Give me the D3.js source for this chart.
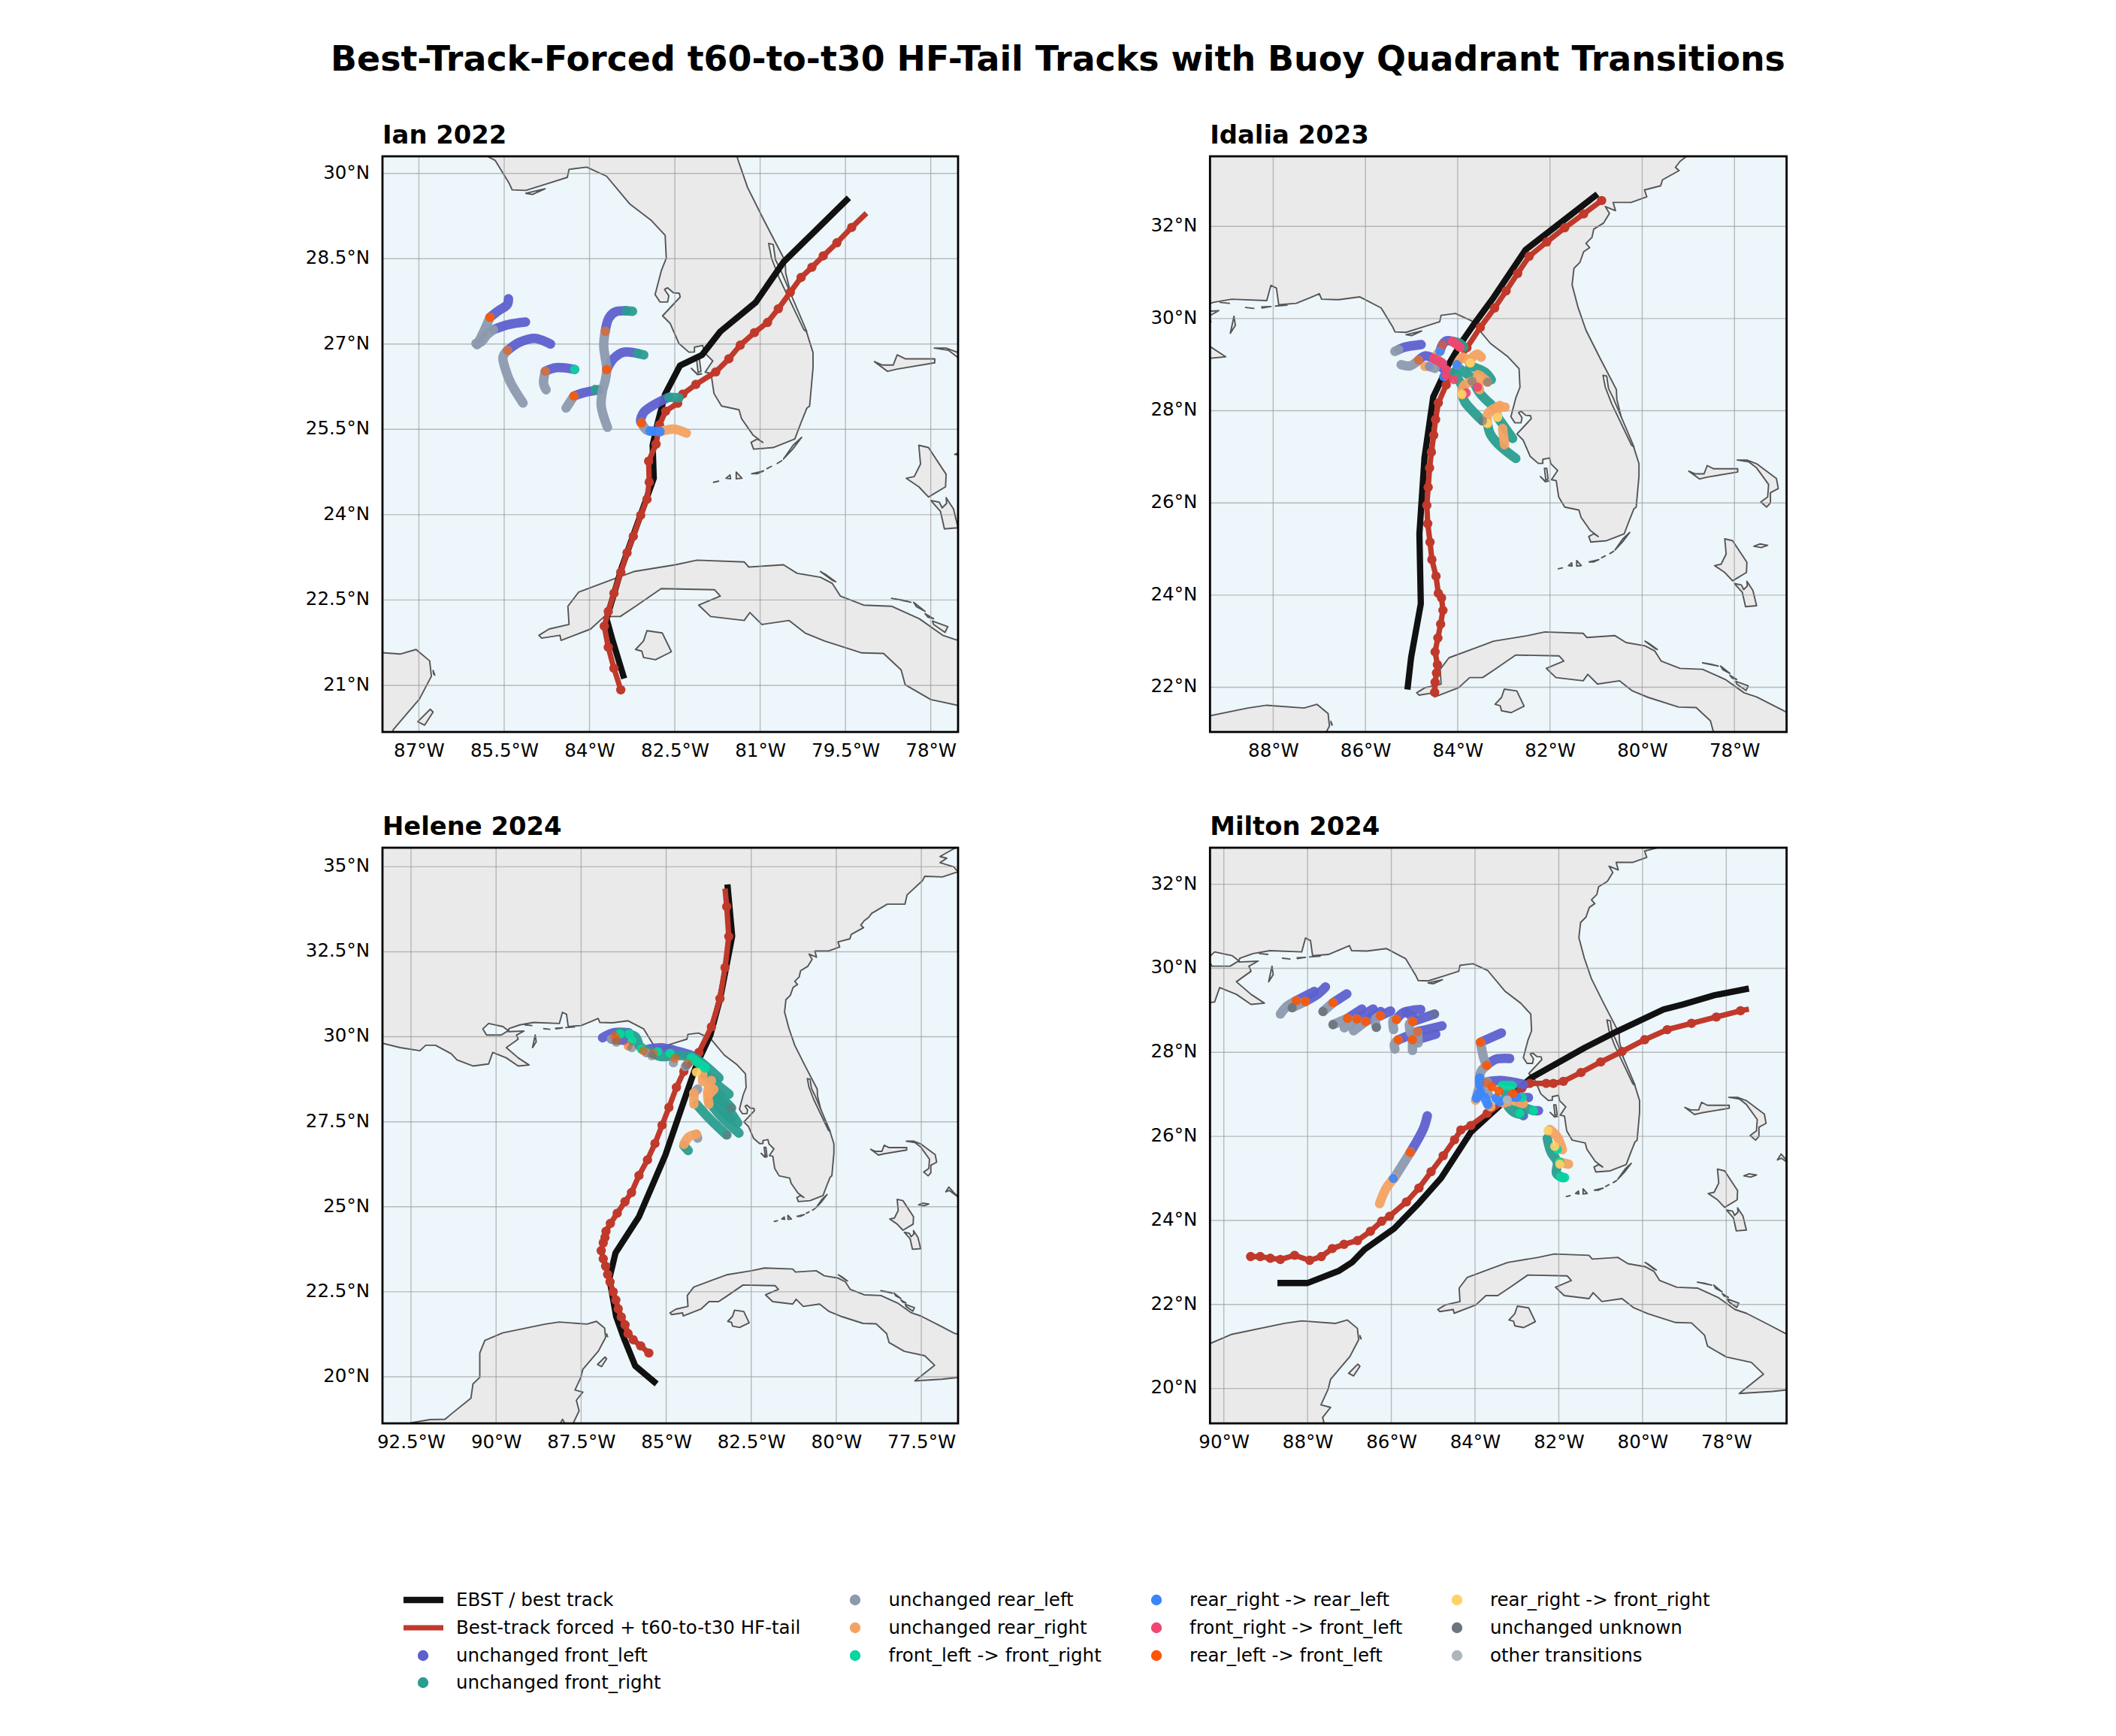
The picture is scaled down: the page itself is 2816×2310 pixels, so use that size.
<!DOCTYPE html>
<html><head><meta charset="utf-8">
<script src="https://cdnjs.cloudflare.com/ajax/libs/d3/7.8.5/d3.min.js"></script>
<style>html,body{margin:0;padding:0;background:#fff}svg{display:block}text{font-family:"DejaVu Sans",sans-serif}</style>
</head><body><svg id="fig" width="2816" height="2310"></svg>
<script>
const FIG_TITLE="Best-Track-Forced t60-to-t30 HF-Tail Tracks with Buoy Quadrant Transitions";

/* ---------- legend categories ---------- */
const FL="unchanged front_left",FR="unchanged front_right",RL="unchanged rear_left",RR="unchanged rear_right",
FLFR="front_left -> front_right",RRRL="rear_right -> rear_left",FRFL="front_right -> front_left",RLFL="rear_left -> front_left",
RRFR="rear_right -> front_right",UNK="unchanged unknown",OTH="other transitions";
const categories=[FL,FR,RL,RR,FLFR,RRRL,FRFL,RLFL,RRFR,UNK,OTH];
const categoryColors=["#5e60ce","#2a9d8f","#8d99ae","#f4a261","#06d6a0","#3a86ff","#ef476f","#fb5607","#ffd166","#6c757d","#adb5bd"];
const lineLabels=["EBST / best track","Best-track forced + t60-to-t30 HF-tail"];

/* ---------- coastline (lon, lat) ---------- */
const mainland=[[-95,29.8],[-93.34,29.81],[-92.82,29.68],[-92.24,29.59],[-92.07,29.75],[-91.78,29.75],[-91.32,29.5],[-91.15,29.32],[-90.68,29.14],[-90.22,29.2],[-90.1,29.54],[-89.7,29.38],[-89.35,29.14],[-89.03,29.17],[-89.35,29.38],[-89.7,29.68],[-89.35,29.93],[-89.4,30.05],[-89.18,30.17],[-89.64,30.15],[-89.62,30.24],[-89.3,30.35],[-88.9,30.42],[-88.14,30.39],[-88.05,30.72],[-87.93,30.66],[-87.88,30.3],[-87.5,30.33],[-87.16,30.47],[-87,30.54],[-86.95,30.42],[-86.58,30.41],[-86.12,30.47],[-85.66,30.23],[-85.41,29.82],[-85.36,29.71],[-85.12,29.7],[-84.74,29.82],[-84.39,29.93],[-84.36,30.07],[-84.05,30.11],[-83.7,29.95],[-83.29,29.46],[-82.91,29.17],[-82.67,28.91],[-82.65,28.51],[-82.737,28.289],[-82.847,27.87],[-82.759,27.738],[-82.627,27.738],[-82.605,27.848],[-82.68,27.959],[-82.627,27.989],[-82.525,27.901],[-82.42,27.892],[-82.406,27.826],[-82.715,27.496],[-82.58,27.36],[-82.429,27.011],[-82.252,26.857],[-82.155,26.86],[-82.155,26.945],[-82.01,26.976],[-81.98,26.85],[-81.833,26.703],[-81.966,26.505],[-81.864,26.483],[-81.811,26.13],[-81.679,25.91],[-81.371,25.844],[-81.327,25.69],[-81.128,25.403],[-80.952,25.271],[-81.05,25.33],[-81.159,25.271],[-81.115,25.152],[-80.77,25.18],[-80.39,25.33],[-80.28,25.62],[-80.18,25.87],[-80.13,25.91],[-80.07,26.58],[-80.07,26.85],[-80.18,27.2],[-80.42,27.72],[-80.55,28.25],[-80.56,28.46],[-80.93,29.17],[-81.22,29.75],[-81.39,30.24],[-81.52,30.73],[-81.48,31.09],[-81.35,31.22],[-81.27,31.45],[-81.14,31.54],[-81.22,31.63],[-81.09,31.76],[-81.05,31.94],[-80.84,32.07],[-80.71,32.28],[-80.8,32.43],[-80.58,32.34],[-80.63,32.52],[-80.24,32.52],[-79.9,32.64],[-79.95,32.79],[-79.6,32.88],[-79.56,33.01],[-79.2,33.21],[-79.28,33.28],[-79.18,33.41],[-79.05,33.51],[-78.96,33.63],[-78.5,33.9],[-77.98,33.9],[-77.92,34.17],[-77.46,34.6],[-77.4,34.72],[-76.88,34.7],[-76.42,34.85],[-76.55,35],[-76.95,35.12],[-76.75,35.25],[-76.95,35.3],[-76.6,35.5],[-76.2,35.7],[-75.5,35.6],[-75,37],[-95,37]];
const lakePontchartrain=[[-90.39,30.23],[-90.22,30.39],[-89.8,30.3],[-89.64,30.18],[-89.85,30.05],[-90.28,30.05]];
const yucatan=[[-92.9,18.2],[-92.53,18.64],[-91.95,18.74],[-91.5,18.75],[-91.3,18.92],[-90.74,19.37],[-90.68,19.79],[-90.48,19.98],[-90.48,20.7],[-90.33,21.07],[-89.81,21.29],[-88.55,21.55],[-88.14,21.61],[-87.33,21.55],[-87.05,21.63],[-86.81,21.43],[-86.78,21.16],[-86.99,20.76],[-87.45,20.22],[-87.51,19.98],[-87.68,19.61],[-87.45,19.55],[-87.64,19.31],[-87.56,19],[-87.73,18.64],[-87.9,18.5],[-88.05,18.75],[-88.15,18.55],[-88.2,18.2]];
const cuba=[[-84.89,21.88],[-84.71,21.99],[-84.36,22.07],[-84.38,22.39],[-84.19,22.64],[-83.6,22.86],[-83.22,23],[-82.49,23.12],[-82.11,23.2],[-81.28,23.17],[-81.2,23.08],[-80.59,23.12],[-80.35,22.97],[-79.94,22.9],[-79.73,22.79],[-79.59,22.57],[-79.18,22.41],[-78.69,22.39],[-78.2,22.17],[-77.79,21.88],[-77.52,21.79],[-76.95,21.5],[-76.53,21.28],[-75.9,21.1],[-75.6,20.7],[-74.2,20.2],[-74.5,20],[-75.7,19.95],[-76.42,19.98],[-76.9,19.93],[-77.69,19.88],[-77.11,20.34],[-77.4,20.62],[-78,20.75],[-78.45,21.01],[-78.52,21.27],[-78.83,21.56],[-79.21,21.57],[-79.87,21.78],[-80.21,21.92],[-80.49,22.14],[-80.97,22.07],[-81.18,22.28],[-81.28,22.14],[-81.87,22.21],[-82.08,22.41],[-81.7,22.57],[-81.8,22.68],[-82.74,22.7],[-83.19,22.39],[-83.46,22.21],[-83.74,22.21],[-83.98,21.99],[-84.5,21.79],[-84.52,21.88],[-84.84,21.83]];
const isleOfYouth=[[-83.19,21.63],[-83.05,21.78],[-82.99,21.96],[-82.72,21.92],[-82.56,21.59],[-82.84,21.45],[-83.05,21.49],[-83.08,21.6]];
const cubanCays=[[[-79.94,23],[-79.72,22.84],[-79.67,22.82],[-79.85,22.95]],[[-78.69,22.53],[-78.35,22.46],[-78.5,22.5]],[[-78.3,22.46],[-78.1,22.3],[-78.25,22.38]],[[-78.1,22.26],[-77.95,22.17],[-78.05,22.2]],[[-77.97,22.13],[-77.7,22.03],[-77.75,21.93],[-77.95,22.07]]];
const cozumel=[[-87.02,20.36],[-86.8,20.58],[-86.75,20.53],[-86.9,20.3]];
const contoy=[[-86.75,21.26],[-86.72,21.18],[-86.74,21.2]];
const grandBahama=[[-78.99,26.69],[-78.76,26.52],[-78.59,26.56],[-77.93,26.67],[-77.93,26.74],[-78.45,26.74],[-78.59,26.81],[-78.66,26.63],[-78.85,26.63]];
const abaco=[[-77.94,26.93],[-77.73,26.93],[-77.52,26.85],[-77.09,26.53],[-77.05,26.31],[-77.22,26.22],[-77.22,26],[-77.3,25.91],[-77.43,26.02],[-77.28,26.13],[-77.26,26.4],[-77.52,26.76],[-77.69,26.89]];
const andrusNorth=[[-78.21,25.22],[-78.04,25.18],[-77.73,24.71],[-77.74,24.49],[-78.04,24.31],[-78.21,24.49],[-78.43,24.64],[-78.29,24.67],[-78.18,24.89]];
const andrusSouth=[[-78,24.25],[-77.85,24.22],[-77.8,24.12],[-77.72,24.2],[-77.73,24.3],[-77.6,24.1],[-77.52,23.77],[-77.76,23.75],[-77.83,24.06]];
const newProvidence=[[-77.58,25.06],[-77.45,25.11],[-77.28,25.08],[-77.42,25.03]];
const eleuthera=[[-76.78,25.44],[-76.69,25.58],[-76.54,25.41],[-76.3,25.2],[-76.68,25.48]];
const keys=[[[-80.27,25.36],[-80.42,25.22],[-80.59,24.98],[-80.43,25.15]],[[-80.7,24.9],[-80.62,24.95]],[[-80.88,24.81],[-80.8,24.85]],[[-81.15,24.72],[-80.94,24.77],[-81.05,24.72]],[[-81.42,24.75],[-81.32,24.64],[-81.42,24.63]],[[-81.6,24.64],[-81.53,24.7],[-81.52,24.63]],[[-81.82,24.57],[-81.73,24.59]]];
const barrierIslands=[[[-85.12,29.65],[-84.78,29.73],[-85,29.63]],[[-88.6,30.24],[-88.42,30.22]],[[-88.25,30.25],[-88.05,30.26],[-88.24,30.23]],[[-87.95,30.27],[-87.7,30.29]],[[-88.85,30.05],[-88.82,29.85],[-88.93,29.68]],[[-89.15,30.35],[-88.95,30.33]]];
const captivaIsland=[[-82.208,26.571],[-82.1,26.47],[-82.03,26.475],[-82.1,26.46]];
const pineIsland=[[-82.12,26.75],[-82.09,26.5],[-82.04,26.52],[-82.07,26.75]];
const indianRiver=[[-80.85,28.77],[-80.77,28.75],[-80.73,28.48],[-80.64,28.3],[-80.18,27.22],[-80.23,27.25],[-80.66,28.15],[-80.8,28.51]];

const landPolys=[mainland,yucatan,cuba,isleOfYouth,...cubanCays,cozumel,contoy,grandBahama,abaco,andrusNorth,andrusSouth,newProvidence,eleuthera,...keys,...barrierIslands,captivaIsland,pineIsland];
const waterPolys=[lakePontchartrain,indianRiver];

/* ---------- Ian 2022 ---------- */
const ianBest=[[-83.39,21.12],[-83.6,21.81],[-83.7,22.17],[-83.43,23.08],[-82.87,24.64],[-82.89,25.22],[-82.8,25.62],[-82.67,26.12],[-82.41,26.62],[-82.02,26.81],[-81.7,27.22],[-81.08,27.73],[-80.59,28.44],[-79.44,29.57]];
const ianForced=[[-83.45,20.92],[-83.57,21.3],[-83.67,21.67],[-83.74,22.04],[-83.67,22.3],[-83.57,22.62],[-83.45,22.99],[-83.34,23.33],[-83.23,23.62],[-83.1,23.99],[-82.99,24.27],[-82.95,24.57],[-82.96,24.94],[-82.83,25.24],[-82.77,25.58],[-82.66,25.82],[-82.45,25.96],[-82.36,26.12],[-82.13,26.29],[-81.78,26.51],[-81.55,26.74],[-81.35,26.98],[-81.1,27.2],[-80.87,27.38],[-80.68,27.62],[-80.47,27.91],[-80.28,28.17],[-80.09,28.35],[-79.89,28.55],[-79.65,28.78],[-79.39,29.05],[-79.13,29.3]];
const ianBuoys=[
[FL,[[-85.424,27.796],[-85.446,27.694],[-85.6,27.584],[-85.75,27.47]]],
[RL,[[-85.75,27.47],[-85.843,27.254],[-85.975,26.989]]],
[FL,[[-85.125,27.386],[-85.424,27.342],[-85.688,27.254]]],
[RL,[[-85.688,27.254],[-85.799,27.166],[-85.909,27.033],[-85.997,27.011]]],
[FL,[[-84.684,27],[-84.807,27.055],[-84.962,27.1],[-85.226,27.033],[-85.442,26.888]]],
[RL,[[-85.442,26.888],[-85.521,26.769],[-85.468,26.527],[-85.38,26.307],[-85.169,25.963]]],
[FL,[[-84.261,26.553],[-84.587,26.584],[-84.777,26.522]]],
[RL,[[-84.777,26.522],[-84.807,26.307],[-84.763,26.196]]],
[FL,[[-83.838,26.192],[-84.103,26.144],[-84.274,26.086]]],
[RL,[[-84.274,26.086],[-84.411,25.875]]],
[FL,[[-83.354,27.584],[-83.552,27.562],[-83.662,27.452],[-83.724,27.223]]],
[FR,[[-83.243,27.575],[-83.354,27.584]]],
[RL,[[-83.724,27.223],[-83.75,26.967],[-83.697,26.549],[-83.728,26.34],[-83.772,26.174],[-83.794,25.91],[-83.684,25.536]]],
[FR,[[-83.045,26.809],[-83.155,26.835]]],
[FL,[[-83.155,26.835],[-83.398,26.857],[-83.574,26.747],[-83.697,26.549]]],
[FR,[[-82.429,26.055],[-82.605,26.064]]],
[FL,[[-82.605,26.064],[-82.825,25.954],[-83.045,25.8],[-83.103,25.646],[-83.089,25.615]]],
[RL,[[-83.089,25.615],[-83.001,25.492],[-82.935,25.47]]],
[RRRL,[[-82.935,25.47],[-82.759,25.461]]],
[RR,[[-82.759,25.461],[-82.517,25.505],[-82.296,25.434]]],
[FR,[[-83.838,26.192],[-83.9,26.2]]]
];
const ianDots=[[RLFL,-85.75,27.47],[FLFR,-84.261,26.553],[RLFL,-84.274,26.086],[RLFL,-83.697,26.549],[RLFL,-83.089,25.615]];
const ianFaded=[[RLFL,-85.442,26.888],[RLFL,-84.777,26.522],[RLFL,-83.724,27.223]];

/* ---------- Idalia 2023 ---------- */
const idaliaBest=[[-85.09,21.95],[-85.01,22.65],[-84.8,23.81],[-84.83,25.33],[-84.72,26.98],[-84.53,28.3],[-84.2,29],[-83.86,29.57],[-83.61,29.93],[-83.22,30.46],[-82.53,31.49],[-81.69,32.14],[-80.97,32.7]];
const idaliaForced=[[-84.5,21.89],[-84.49,22.11],[-84.46,22.31],[-84.44,22.49],[-84.49,22.77],[-84.43,23.07],[-84.37,23.37],[-84.32,23.67],[-84.35,23.94],[-84.42,24.04],[-84.47,24.41],[-84.56,24.77],[-84.6,25.15],[-84.65,25.55],[-84.67,25.95],[-84.64,26.34],[-84.61,26.76],[-84.57,27.1],[-84.52,27.47],[-84.48,27.81],[-84.42,28.17],[-84.25,28.56],[-83.8,29.37],[-83.51,29.81],[-83.2,30.23],[-82.95,30.6],[-82.7,30.98],[-82.45,31.35],[-82.07,31.66],[-81.68,31.97],[-81.27,32.27],[-80.88,32.56]];
const idaliaBuoys=[
[FL,[[-84.792,29.435],[-85.145,29.38],[-85.28,29.326]]],
[RL,[[-85.28,29.326],[-85.362,29.288]]],
[FR,[[-84.113,29.505],[-83.95,29.46],[-83.869,29.38]]],
[FL,[[-84.113,29.505],[-84.249,29.516],[-84.33,29.435],[-84.385,29.288]]],
[RR,[[-84.385,29.288],[-84.439,29.234]]],
[FRFL,[[-84.113,29.505],[-83.95,29.38]]],
[RL,[[-85.226,29],[-85.036,28.973],[-84.846,29.098]]],
[FL,[[-84.846,29.098],[-84.71,29.19],[-84.52,29.136],[-84.33,29.027]]],
[FRFL,[[-84.52,29.136],[-84.33,29.027]]],
[RR,[[-84.71,28.962],[-84.613,28.962]]],
[RL,[[-84.613,28.962],[-84.493,28.919]]],
[FL,[[-84.35,28.95],[-84.249,28.85]]],
[FR,[[-82.74,26.964],[-83.136,27.29],[-83.299,27.507],[-83.353,27.724]]],
[RR,[[-83.353,27.724],[-83.342,27.942],[-83.082,28.115]]],
[FR,[[-82.81,27.399],[-83,27.67],[-83.136,27.86]]],
[RR,[[-83.136,27.86],[-83.136,28.05],[-82.973,28.077]]],
[RR,[[-82.984,27.263],[-83.027,27.616]]],
[FR,[[-83.462,27.779],[-83.625,27.942],[-83.842,28.186],[-83.907,28.349]]],
[RR,[[-83.907,28.349],[-83.869,28.539],[-83.69,28.636]]],
[FR,[[-83.272,28.132],[-83.516,28.376],[-83.625,28.566]]],
[RR,[[-83.527,28.457],[-83.57,28.783],[-83.407,28.674],[-83.353,28.62]]],
[FR,[[-84.005,28.946],[-83.706,28.729]]],
[FR,[[-83.733,28.973],[-83.407,28.837],[-83.272,28.674]]],
[RR,[[-83.728,29.038],[-83.896,29.163],[-84.016,29]]],
[RR,[[-83.679,29.163],[-83.57,29.228],[-83.489,29.163]]],
[FR,[[-84.086,28.837],[-83.95,28.62],[-83.869,28.457]]]
];
const idaliaDots=[[RRRL,-84.385,29.288],[FRFL,-84.113,29.505],[FRFL,-83.95,29.38],[RRFR,-83.353,27.724],[RRFR,-83.136,27.86],[RRFR,-83.907,28.36],[FRFL,-83.816,28.386],[FRFL,-83.57,28.512],[RRRL,-84.016,29],[RRFR,-83.728,29.038],[FRFL,-84.249,28.892],[RRRL,-84.303,28.74],[FRFL,-84.249,28.767],[FRFL,-84.086,28.674]];
const idaliaFaded=[[RLFL,-84.846,29.098],[RLFL,-84.33,29.435],[RRRL,-84.613,28.962],[UNK,-83.462,27.779],[UNK,-83.69,28.636],[UNK,-83.353,28.62]];

/* ---------- Helene 2024 ---------- */
const heleneBest=[[-85.28,19.79],[-85.91,20.32],[-86.24,21.13],[-86.47,21.77],[-86.67,22.89],[-86.49,23.64],[-85.8,24.71],[-85.02,26.53],[-84.5,28.05],[-84.1,29.2],[-83.7,30.05],[-83.41,31.14],[-83.06,32.96],[-83.2,34.48]];
const heleneForced=[[-85.51,20.7],[-85.75,20.91],[-85.97,21.09],[-86.12,21.27],[-86.21,21.53],[-86.32,21.76],[-86.41,22],[-86.48,22.26],[-86.56,22.5],[-86.65,22.79],[-86.72,23.01],[-86.78,23.25],[-86.85,23.47],[-86.91,23.71],[-86.85,23.94],[-86.8,24.1],[-86.77,24.28],[-86.64,24.51],[-86.44,24.81],[-86.21,25.15],[-86.02,25.42],[-85.8,25.92],[-85.55,26.38],[-85.33,26.86],[-85.12,27.4],[-84.92,27.92],[-84.7,28.51],[-84.48,28.98],[-84.04,29.54],[-83.67,30.29],[-83.42,31.12],[-83.27,32.03],[-83.16,32.95],[-83.22,33.83],[-83.27,34.36]];
const heleneBuoys=[
[FL,[[-86.871,29.97],[-86.54,30.118],[-86.098,30.118]]],
[FL,[[-86.613,29.933],[-86.245,29.896]]],
[FL,[[-85.509,29.638],[-85.141,29.675],[-84.258,29.454]]],
[FR,[[-86.392,30.118],[-85.914,30.007],[-85.767,29.712],[-85.362,29.491],[-85.141,29.417],[-84.626,29.454],[-84.185,29.38],[-83.817,29.122],[-83.449,28.79]]],
[FR,[[-83.891,28.901],[-83.155,28.311]]],
[FR,[[-84.111,28.016],[-83.707,27.573],[-83.228,27.116]]],
[FR,[[-83.743,28.09],[-83.376,27.647],[-82.86,27.168]]],
[FR,[[-83.67,28.385],[-83.228,27.942],[-82.897,27.463]]],
[FR,[[-83.596,28.458],[-83.081,27.905]]],
[FR,[[-83.707,28.2],[-83.081,27.573]]],
[RL,[[-84.075,28.458],[-84.185,28.348]]],
[RR,[[-84.185,28.348],[-84.185,28.016]]],
[RR,[[-83.67,28.716],[-83.78,28.385],[-83.743,28.016]]],
[RR,[[-83.596,28.458],[-83.743,28.311]]],
[RR,[[-83.927,28.938],[-83.927,28.68]]],
[RL,[[-84.075,27.02],[-84.111,27.131]]],
[RR,[[-84.479,26.836],[-84.332,27.057],[-84.111,27.131]]],
[FR,[[-84.354,26.652],[-84.479,26.8]]],
[FLFR,[[-84.258,29.38],[-83.854,29.085]]]
];
const heleneDots=[[FLFR,-86.356,30.081],[FLFR,-86.083,30.081],[FLFR,-86.002,29.882],[FLFR,-85.73,29.638],[FLFR,-85.252,29.565],[FLFR,-84.884,29.513],[RRFR,-84.111,28.96],[RLFL,-86.466,29.896],[RL,-86.613,29.933],[RL,-85.583,29.528],[RL,-84.788,29.233],[RL,-84.442,29.122]];
const heleneFaded=[[RLFL,-86.517,30.022],[RLFL,-86.113,29.727],[RLFL,-85.671,29.587],[RLFL,-85.377,29.513],[RLFL,-84.744,29.365],[RLFL,-84.369,29.218],[UNK,-86.466,29.837],[UNK,-86.01,29.675],[UNK,-85.421,29.439],[UNK,-84.406,29.17],[UNK,-83.081,27.905],[UNK,-83.206,27.109]];

/* ---------- Milton 2024 ---------- */
const miltonBest=[[-88.72,22.51],[-88,22.51],[-87.25,22.8],[-86.94,23],[-86.64,23.31],[-85.93,23.81],[-85.37,24.38],[-84.81,25.01],[-84.1,26.1],[-83.4,26.74],[-82.79,27.28],[-82.65,27.4],[-81.38,28.11],[-80.63,28.49],[-79.5,29.02],[-79.03,29.14],[-78.28,29.36],[-77.46,29.52]];
const miltonForced=[[-89.36,23.14],[-89.13,23.14],[-88.89,23.1],[-88.65,23.07],[-88.31,23.17],[-87.95,23.05],[-87.67,23.14],[-87.41,23.33],[-87.13,23.43],[-86.81,23.52],[-86.5,23.74],[-86.23,23.98],[-86.04,24.1],[-85.64,24.44],[-85.34,24.77],[-85.05,25.16],[-84.76,25.54],[-84.49,25.92],[-84.34,26.15],[-84.1,26.26],[-83.71,26.55],[-83.31,26.83],[-82.88,27.15],[-82.69,27.26],[-82.3,27.26],[-82.13,27.26],[-81.89,27.31],[-81.47,27.52],[-81,27.77],[-80.49,28.02],[-79.95,28.3],[-79.41,28.54],[-78.83,28.69],[-78.24,28.84],[-77.66,28.99],[-77.46,29.03]];
const miltonBuoys=[
[FL,[[-87.572,29.557],[-87.751,29.39],[-88.051,29.211]]],
[FL,[[-87.841,29.45],[-88.272,29.229]]],
[FL,[[-87.063,29.39],[-87.392,29.181]]],
[FL,[[-86.704,29.031],[-87.045,28.81]]],
[FL,[[-86.435,29.031],[-86.824,28.792]]],
[FL,[[-86.255,28.972],[-86.614,28.733]]],
[FL,[[-86.016,28.984],[-86.261,28.87]]],
[FL,[[-85.298,29.019],[-85.717,28.942],[-85.878,28.781]]],
[FL,[[-84.969,28.912],[-85.489,28.733]]],
[FL,[[-85.65,28.96],[-85.489,28.85]]],
[FL,[[-84.789,28.631],[-85.238,28.524],[-85.37,28.494]]],
[FL,[[-84.939,28.434],[-85.358,28.315],[-85.495,28.297]]],
[FL,[[-85.37,28.494],[-85.836,28.297]]],
[RL,[[-88.051,29.211],[-88.368,29.061]]],
[RL,[[-88.272,29.229],[-88.499,29.091],[-88.649,28.912]]],
[RL,[[-87.392,29.181],[-87.632,28.972]]],
[RL,[[-87.045,28.81],[-87.392,28.661]]],
[RL,[[-86.824,28.792],[-87.123,28.583]]],
[RL,[[-86.614,28.733],[-86.902,28.512]]],
[RL,[[-86.261,28.87],[-86.375,28.792],[-86.357,28.595]]],
[RL,[[-85.878,28.781],[-85.956,28.763],[-85.944,28.542]]],
[RL,[[-85.489,28.733],[-85.567,28.673],[-85.537,28.464]]],
[RL,[[-85.37,28.494],[-85.358,28.225]]],
[RL,[[-85.495,28.297],[-85.495,28.046]]],
[RL,[[-85.836,28.297],[-85.926,28.195],[-85.914,28.076]]],
[FL,[[-83.37,28.46],[-83.87,28.24]]],
[RL,[[-83.87,28.24],[-83.802,27.896],[-83.724,27.687]]],
[FL,[[-83.173,27.854],[-83.502,27.837],[-83.724,27.687]]],
[RL,[[-83.724,27.687],[-83.861,27.538],[-83.891,27.269]]],
[FL,[[-82.844,27.239],[-83.383,27.329],[-83.712,27.299]]],
[RL,[[-83.712,27.299],[-83.73,27.1],[-83.682,27]]],
[RL,[[-83.861,27.3],[-83.95,27]]],
[FL,[[-82.724,26.923],[-82.96,26.923]]],
[FL,[[-82.485,26.612],[-82.6,26.612]]],
[FL,[[-82.844,26.493],[-82.88,26.55]]],
[FR,[[-83.263,27.03],[-83.233,26.761],[-83.083,26.582],[-82.904,26.522]]],
[FR,[[-82.964,26.731],[-82.605,26.612]]],
[RR,[[-83.323,26.791],[-83.2,26.83]]],
[RR,[[-83,26.83],[-82.85,26.78]]],
[RR,[[-83.99,26.86],[-83.96,26.9]]],
[RR,[[-83.622,26.702],[-83.68,26.75]]],
[RRRL,[[-83.891,27.388],[-83.891,27.239]]],
[RRRL,[[-83.873,27.06],[-83.969,26.911]]],
[RRRL,[[-83.772,26.929],[-83.694,26.761]]],
[RRRL,[[-83.502,26.911],[-83.413,26.821]]],
[RRRL,[[-83.15,26.95],[-83,26.93]]],
[FLFR,[[-83.353,27.209],[-83.113,27.209]]],
[FR,[[-82.276,25.955],[-82.186,25.626],[-82.036,25.387],[-82.054,25.119],[-81.899,25.017]]],
[RR,[[-82.216,26.164],[-82.036,25.985],[-81.916,25.686]]],
[RR,[[-81.976,25.387],[-81.767,25.339]]],
[FLFR,[[-81.96,25.03],[-81.86,25.02]]],
[FL,[[-85.14,26.49],[-85.23,26.19],[-85.54,25.63]]],
[RL,[[-85.54,25.63],[-85.93,25.01]]],
[RR,[[-85.93,25.01],[-86.12,24.77],[-86.28,24.4]]]
];
const miltonDots=[[RLFL,-88.272,29.229],[RLFL,-88.051,29.211],[RLFL,-87.392,29.181],[RLFL,-87.045,28.81],[RLFL,-86.824,28.792],[RLFL,-86.614,28.733],[RLFL,-86.261,28.87],[RLFL,-85.878,28.781],[RLFL,-85.489,28.733],[RLFL,-85.836,28.297],[RLFL,-85.495,28.297],[UNK,-88.368,29.061],[UNK,-87.632,28.972],[UNK,-87.392,28.661],[UNK,-86.357,28.595],
[RLFL,-83.87,28.24],[RLFL,-83.724,27.687],[RLFL,-83.592,27.179],[RLFL,-83.431,27.078],[RLFL,-83.101,27.018],[FLFR,-82.874,26.923],[FLFR,-82.934,26.552],[FLFR,-82.605,26.612],[OTH,-83.233,26.869],
[RRFR,-82.258,26.134],[RRFR,-82.096,25.764],[RRFR,-81.976,25.339],[FLFR,-82.036,25.686],[FLFR,-81.976,25.39],[RLFL,-85.55,25.62],[RRRL,-85.95,25]];
const miltonFaded=[[RLFL,-85.37,28.494],[UNK,-84.969,28.912],[RLFL,-83.724,27.269]];

/* ---------- panels: extents and tick values ---------- */
const panels=[
{name:"Ian 2022",box:[509,208,766,766],lon:[-87.64,-77.52],lat:[20.18,30.3],lonT:[-87,-85.5,-84,-82.5,-81,-79.5,-78],latT:[21,22.5,24,25.5,27,28.5,30],best:ianBest,forced:ianForced,marked:31,buoys:ianBuoys,dots:ianDots,faded:ianFaded},
{name:"Idalia 2023",box:[1610.3,208,767.3,766],lon:[-89.37,-76.87],lat:[21.03,33.52],lonT:[-88,-86,-84,-82,-80,-78],latT:[22,24,26,28,30,32],best:idaliaBest,forced:idaliaForced,marked:32,buoys:idaliaBuoys,dots:idaliaDots,faded:idaliaFaded},
{name:"Helene 2024",box:[509,1128,766,766],lon:[-93.34,-76.42],lat:[18.63,35.56],lonT:[-92.5,-90,-87.5,-85,-82.5,-80,-77.5],latT:[20,22.5,25,27.5,30,32.5,35],best:heleneBest,forced:heleneForced,marked:34,buoys:heleneBuoys,dots:heleneDots,faded:heleneFaded},
{name:"Milton 2024",box:[1610.3,1128,767.3,766],lon:[-90.33,-76.56],lat:[19.17,32.87],lonT:[-90,-88,-86,-84,-82,-80,-78],latT:[20,22,24,26,28,30,32],best:miltonBest,forced:miltonForced,marked:35,buoys:miltonBuoys,dots:miltonDots,faded:miltonFaded}
];

/* ---------- drawing ---------- */
const svg=d3.select("#fig");
const color=d3.scaleOrdinal(categories,categoryColors);
const rank=c=>categories.indexOf(c);
svg.append("text").attr("x",1408).attr("y",94).attr("text-anchor","middle")
  .attr("font-size",45.85).attr("font-weight","bold").text(FIG_TITLE);

const fmtLon=v=>Math.abs(v)+"°W", fmtLat=v=>v+"°N";

panels.forEach((p,i)=>{
  const [bx,by,bw,bh]=p.box;
  const x=d3.scaleLinear().domain(p.lon).range([0,bw]);
  const y=d3.scaleLinear().domain(p.lat).range([bh,0]);
  const g=svg.append("g").attr("transform",`translate(${bx},${by})`);
  const clipId="clip"+i;
  g.append("clipPath").attr("id",clipId).append("rect").attr("width",bw).attr("height",bh);
  const m=g.append("g").attr("clip-path",`url(#${clipId})`);
  m.append("rect").attr("width",bw).attr("height",bh).attr("fill","#edf6fb");
  const ring=d3.line().x(d=>x(d[0])).y(d=>y(d[1]));
  const closed=pts=>ring(pts)+"Z";
  m.selectAll(".land").data(landPolys).join("path").attr("class","land").attr("d",closed)
    .attr("fill","#eaeaea").attr("stroke","#555").attr("stroke-width",1.9).attr("stroke-linejoin","round");
  m.selectAll(".water").data(waterPolys).join("path").attr("class","water").attr("d",closed)
    .attr("fill","#edf6fb").attr("stroke","#555").attr("stroke-width",1.9).attr("stroke-linejoin","round");
  // grid
  m.selectAll(".gx").data(p.lonT).join("line").attr("x1",d=>x(d)).attr("x2",d=>x(d)).attr("y1",0).attr("y2",bh)
    .attr("stroke","#9a9a9a").attr("stroke-opacity",.65).attr("stroke-width",1.4);
  m.selectAll(".gy").data(p.latT).join("line").attr("y1",d=>y(d)).attr("y2",d=>y(d)).attr("x1",0).attr("x2",bw)
    .attr("stroke","#9a9a9a").attr("stroke-opacity",.65).attr("stroke-width",1.4);
  // tracks
  m.append("path").attr("d",ring(p.best)).attr("fill","none").attr("stroke","#111").attr("stroke-width",8.3).attr("stroke-linejoin","round");
  m.append("path").attr("d",ring(p.forced)).attr("fill","none").attr("stroke","#c0392b").attr("stroke-width",7.2).attr("stroke-linejoin","round");
  m.selectAll(".tp").data(p.forced.slice(0,p.marked)).join("circle").attr("cx",d=>x(d[0])).attr("cy",d=>y(d[1])).attr("r",6.2).attr("fill","#c0392b");
  // buoys, drawn in legend order
  const smooth=d3.line().x(d=>x(d[0])).y(d=>y(d[1])).curve(d3.curveCatmullRom.alpha(.5));
  const items=[];
  p.buoys.forEach(b=>items.push({k:rank(b[0]),c:b[0],pts:b[1],o:.95}));
  p.dots.forEach(d=>items.push({k:rank(d[0]),c:d[0],pts:[[d[1],d[2]]],o:.92}));
  p.faded.forEach(d=>items.push({k:rank(d[0]),c:d[0],pts:[[d[1],d[2]]],o:.6}));
  d3.range(items.length).sort((a,b)=>d3.ascending(items[a].k,items[b].k)||a-b).forEach(ix=>{
    const it=items[ix];
    if(it.pts.length===1){
      m.append("circle").attr("cx",x(it.pts[0][0])).attr("cy",y(it.pts[0][1])).attr("r",6.1).attr("fill",color(it.c)).attr("fill-opacity",it.o);
    }else{
      m.append("path").attr("d",smooth(it.pts)).attr("fill","none").attr("stroke",color(it.c)).attr("stroke-opacity",it.o)
       .attr("stroke-width",12.5).attr("stroke-linecap","round").attr("stroke-linejoin","round");
    }
  });
  // frame and axes
  g.append("rect").attr("width",bw).attr("height",bh).attr("fill","none").attr("stroke","#000").attr("stroke-width",2.8);
  const ax=g.append("g").attr("transform",`translate(0,${bh})`).call(d3.axisBottom(x).tickValues(p.lonT).tickFormat(fmtLon).tickSize(0).tickPadding(16));
  const ay=g.append("g").call(d3.axisLeft(y).tickValues(p.latT).tickFormat(fmtLat).tickSize(0).tickPadding(17));
  [ax,ay].forEach(a=>{a.select(".domain").remove();a.selectAll("text").attr("font-size",24.5).attr("fill","#000").style("font-family",'"DejaVu Sans"');});
  ay.selectAll("text").attr("dy","0.26em");
  g.append("text").attr("x",0).attr("y",-17.5).attr("font-size",33.8).attr("font-weight","bold").text(p.name);
});

/* ---------- legend ---------- */
const leg=svg.append("g");
const rowY=[2129,2166,2203,2239];
const colMark=[563,1138,1539,1939], colText=[607,1182.5,1583,1983];
const entries=[
 {t:lineLabels[0],c:0,r:0,line:"#111",w:8.3},{t:lineLabels[1],c:0,r:1,line:"#c0392b",w:6.9},
 {t:FL,c:0,r:2},{t:FR,c:0,r:3},{t:RL,c:1,r:0},{t:RR,c:1,r:1},{t:FLFR,c:1,r:2},
 {t:RRRL,c:2,r:0},{t:FRFL,c:2,r:1},{t:RLFL,c:2,r:2},{t:RRFR,c:3,r:0},{t:UNK,c:3,r:1},{t:OTH,c:3,r:2}];
entries.forEach(e=>{
  const yy=rowY[e.r];
  if(e.line) leg.append("line").attr("x1",537).attr("x2",590).attr("y1",yy).attr("y2",yy).attr("stroke",e.line).attr("stroke-width",e.w);
  else leg.append("circle").attr("cx",colMark[e.c]).attr("cy",yy).attr("r",7.2).attr("fill",color(e.t));
  leg.append("text").attr("x",colText[e.c]).attr("y",yy+7.5).attr("font-size",24.5).text(e.t);
});
</script></body></html>
